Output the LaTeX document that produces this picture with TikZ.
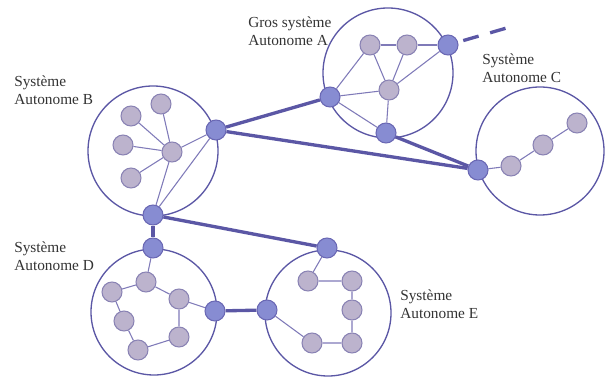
\documentclass[tikz,border=0pt]{standalone}
\usepackage{fontspec}
\setmainfont{Liberation Serif}
\usetikzlibrary{backgrounds}

\definecolor{trait}{HTML}{5B57A5}
\definecolor{fin}{HTML}{7F7AB8}
\definecolor{bleu}{HTML}{878CD2}
\definecolor{bordbleu}{HTML}{6A68B4}
\definecolor{gris}{HTML}{BCB3CD}
\definecolor{bordgris}{HTML}{8A83B4}
\definecolor{texte}{HTML}{333333}

\begin{document}
\begin{tikzpicture}[x=0.75pt,y=-0.75pt,
    zone/.style={circle,draw=trait,line width=1pt,inner sep=0pt},
    routeur/.style={circle,draw=bordbleu,fill=bleu,line width=0.8pt,minimum size=15pt,inner sep=0pt},
    hote/.style={circle,draw=bordgris,fill=gris,line width=0.8pt,minimum size=15pt,inner sep=0pt},
    lien/.style={draw=fin,line width=0.8pt},
    inter/.style={draw=trait,line width=2.5pt},
    etiq/.style={anchor=north west,align=left,text=texte,inner sep=0pt,font=\fontsize{11.5}{13}\selectfont}]
    \useasboundingbox (0,0) rectangle (606,377);

    % systemes autonomes
    \node[zone,minimum size=97.5pt] (zoneA) at (388,73) {};
    \node[zone,minimum size=97.5pt] (zoneB) at (153,151) {};
    \node[zone,minimum size=96pt] (zoneC) at (540,151) {};
    \node[zone,minimum size=94.5pt] (zoneD) at (154,312) {};
    \node[zone,minimum size=94.5pt] (zoneE) at (328,313) {};

    \node[etiq] (txtA) at (248,17) {Gros système\\Autonome A};
    \node[etiq] (txtB) at (14,76) {Système\\Autonome B};
    \node[etiq] (txtC) at (482,54) {Système\\Autonome C};
    \node[etiq] (txtD) at (14,242) {Système\\Autonome D};
    \node[etiq] (txtE) at (400,290) {Système\\Autonome E};

    % A
    \node[hote] (a1) at (370,45) {};
    \node[hote] (a2) at (407,45) {};
    \node[routeur] (a3) at (448,45) {};
    \node[hote] (a4) at (389,90) {};
    \node[routeur] (a5) at (330,97) {};
    \node[routeur] (a6) at (386,133) {};
    \coordinate (bout) at (517,25);

    % B
    \node[hote] (b1) at (161,104) {};
    \node[hote] (b2) at (131,116) {};
    \node[hote] (b3) at (123,145) {};
    \node[hote] (b4) at (131,178) {};
    \node[hote] (b5) at (172,152) {};
    \node[routeur] (b6) at (216,130) {};
    \node[routeur] (b7) at (153,215) {};

    % C
    \node[routeur] (c1) at (478,170) {};
    \node[hote] (c2) at (511,166) {};
    \node[hote] (c3) at (543,145) {};
    \node[hote] (c4) at (577,123) {};

    % D
    \node[routeur] (d1) at (153,248) {};
    \node[hote] (d2) at (146,282) {};
    \node[hote] (d3) at (112,292) {};
    \node[hote] (d4) at (179,299) {};
    \node[routeur] (d5) at (215,311) {};
    \node[hote] (d6) at (124,321) {};
    \node[hote] (d7) at (179,337) {};
    \node[hote] (d8) at (138,350) {};

    % E
    \node[routeur] (e1) at (327,248) {};
    \node[hote] (e2) at (308,281) {};
    \node[hote] (e3) at (352,281) {};
    \node[hote] (e4) at (352,310) {};
    \node[routeur] (e5) at (267,310) {};
    \node[hote] (e6) at (312,343) {};
    \node[hote] (e7) at (352,343) {};

    \begin{scope}[on background layer]
    \draw[lien] (a1) -- (a2) -- (a3);
    \draw[lien] (a1) -- (a5) -- (a6);
    \draw[lien] (a1) -- (a4);
    \draw[lien] (a2) -- (a4);
    \draw[lien] (a3) -- (a4);
    \draw[lien] (a5) -- (a4) -- (a6);

    \draw[lien] (b1) -- (b5);
    \draw[lien] (b2) -- (b5);
    \draw[lien] (b3) -- (b5);
    \draw[lien] (b4) -- (b5);
    \draw[lien] (b6) -- (b5) -- (b7) -- (b6);

    \draw[lien] (c1) -- (c2) -- (c3) -- (c4);

    \draw[lien] (d1) -- (d2) -- (d3) -- (d6) -- (d8) -- (d7) -- (d4) -- (d2);
    \draw[lien] (d4) -- (d5);

    \draw[lien] (e1) -- (e2) -- (e3) -- (e4) -- (e7) -- (e6) -- (e5);

    % liens entre systemes
    \draw[inter] (a5) -- (b6);
    \draw[inter] (b6) -- (c1);
    \draw[inter] (a6) -- (c1);
    \draw[inter] (b7) -- (d1);
    \draw[inter] (b7) -- (e1);
    \draw[inter] (d5) -- (e5);
    \draw[inter,dash pattern=on 12pt off 9pt,shorten <=4pt] (a3) -- (bout);
    \end{scope}
\end{tikzpicture}
\end{document}
